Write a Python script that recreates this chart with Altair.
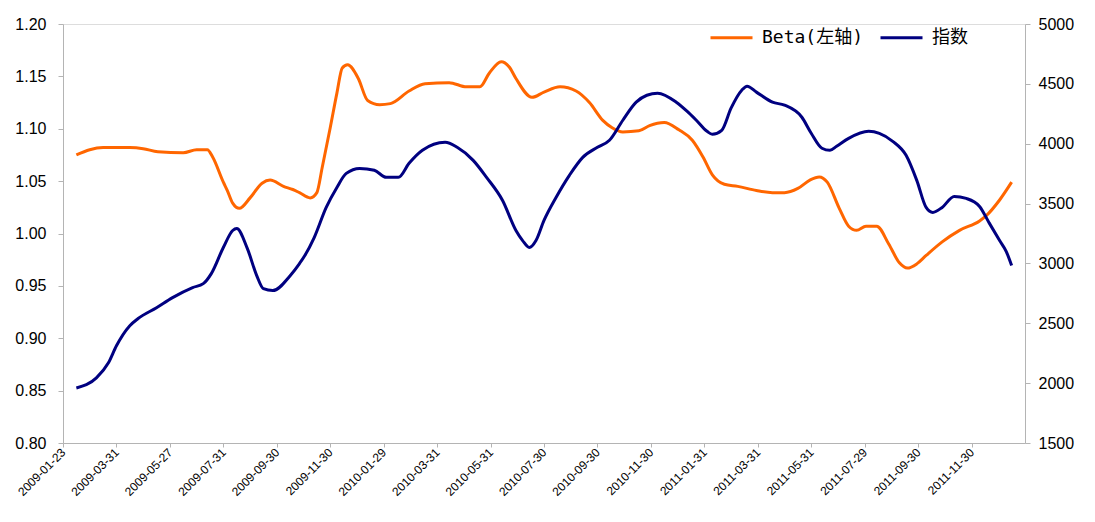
import altair as alt
import pandas as pd

# Category tick labels (one every 40 trading days)
tick_labels = ["2009-01-23", "2009-03-31", "2009-05-27", "2009-07-31", "2009-09-30",
               "2009-11-30", "2010-01-29", "2010-03-31", "2010-05-31", "2010-07-30",
               "2010-09-30", "2010-11-30", "2011-01-31", "2011-03-31", "2011-05-31",
               "2011-07-29", "2011-09-30", "2011-11-30"]
tick_pos = [i * 40 for i in range(len(tick_labels))]

# Beta (left axis): trading-day index and value
beta_t = [10, 20, 30, 50, 60, 71, 90, 100, 108, 112, 120, 123, 127, 132, 140, 149, 155, 165,
          172, 177, 185, 190, 194, 200, 205, 209, 213, 221, 228, 237, 245, 259, 271, 289, 302,
          312, 319, 328, 334, 339, 351, 360, 372, 384, 394, 404, 411, 419, 431, 439, 450, 461,
          471, 479, 486, 495, 505, 519, 531, 540, 550, 559, 566, 572, 581, 588, 594, 601, 609,
          618, 626, 632, 639, 646, 658, 671, 686, 691, 701, 710]
beta_v = [1.075, 1.080, 1.082, 1.082, 1.081, 1.078, 1.077, 1.080, 1.080, 1.073, 1.049, 1.041,
          1.029, 1.024, 1.034, 1.048, 1.051, 1.045, 1.042, 1.039, 1.034, 1.039, 1.063, 1.101,
          1.134, 1.158, 1.161, 1.148, 1.127, 1.123, 1.124, 1.136, 1.143, 1.144, 1.140, 1.140,
          1.153, 1.164, 1.159, 1.148, 1.130, 1.135, 1.140, 1.136, 1.125, 1.108, 1.101, 1.097,
          1.098, 1.103, 1.106, 1.099, 1.089, 1.073, 1.056, 1.047, 1.045, 1.041, 1.039, 1.039,
          1.043, 1.051, 1.054, 1.049, 1.024, 1.007, 1.003, 1.007, 1.007, 0.990, 0.972, 0.967,
          0.971, 0.979, 0.992, 1.003, 1.012, 1.017, 1.032, 1.049]

# Index (right axis): trading-day index and value
idx_t = [10, 25, 34, 40, 50, 56, 70, 82, 97, 105, 111, 120, 127, 130, 138, 145, 150, 157, 170,
         177, 181, 188, 197, 205, 212, 222, 233, 242, 251, 259, 269, 286, 295, 307, 317, 329,
         339, 344, 349, 354, 360, 369, 379, 389, 400, 409, 419, 429, 437, 445, 459, 467, 474,
         482, 486, 493, 500, 508, 512, 519, 531, 540, 553, 560, 568, 574, 579, 588, 603, 611,
         621, 631, 639, 646, 651, 658, 667, 676, 686, 693, 701, 706, 710]
idx_v = [1960, 2044, 2170, 2312, 2480, 2538, 2630, 2714, 2798, 2831, 2915, 3133, 3275, 3292,
         3124, 2898, 2789, 2773, 2898, 2999, 3066, 3216, 3468, 3635, 3752, 3794, 3778, 3719,
         3719, 3836, 3945, 4012, 3970, 3861, 3719, 3526, 3275, 3191, 3133, 3191, 3359, 3551,
         3736, 3886, 3970, 4029, 4196, 4347, 4405, 4422, 4347, 4272, 4196, 4104, 4079, 4112,
         4297, 4447, 4481, 4431, 4347, 4322, 4221, 4087, 3962, 3945, 3979, 4045, 4104, 4087,
         4020, 3903, 3694, 3468, 3426, 3468, 3560, 3543, 3476, 3342, 3191, 3099, 2982]

series_names = ["Beta(左轴)", "指数"]
series_colors = ["#FF6600", "#000080"]

beta_df = pd.DataFrame({"t": beta_t, "v": beta_v, "series": series_names[0]})
idx_df = pd.DataFrame({"t": idx_t, "v": idx_v, "series": series_names[1]})

label_expr = "[" + ",".join("'%s'" % s for s in tick_labels) + "][round(datum.value/40)]"

axis_gray = "#B4B4B4"
FONT = "Liberation Sans"

x_enc = alt.X("t:Q",
              scale=alt.Scale(domain=[0, 720], nice=False, zero=False),
              axis=alt.Axis(title=None, values=tick_pos, labelExpr=label_expr,
                            labelAngle=-45, labelAlign="right", labelBaseline="middle",
                            labelFontSize=12, labelFont=FONT, labelColor="#000000",
                            labelPadding=3, tickSize=4, tickColor=axis_gray,
                            domainColor=axis_gray, grid=False, labelOverlap=False))

color_enc = alt.Color("series:N",
                      scale=alt.Scale(domain=series_names, range=series_colors),
                      legend=alt.Legend(title=None, orient="none", direction="horizontal",
                                        legendX=646, legendY=-9, symbolType="stroke",
                                        symbolSize=1764, symbolStrokeWidth=3,
                                        labelFont="DejaVu Sans Mono, Noto Sans CJK SC",
                                        labelFontSize=18, labelColor="#000000",
                                        labelOffset=8, columnPadding=10))

beta_line = alt.Chart(beta_df).mark_line(strokeWidth=3, interpolate="monotone").encode(
    x=x_enc,
    y=alt.Y("v:Q", scale=alt.Scale(domain=[0.80, 1.20], nice=False, zero=False),
            axis=alt.Axis(title=None, orient="left", format=".2f",
                          values=[0.80, 0.85, 0.90, 0.95, 1.00, 1.05, 1.10, 1.15, 1.20],
                          labelFontSize=16, labelFont=FONT, labelColor="#000000",
                          labelPadding=12, tickSize=5, tickColor=axis_gray,
                          domainColor=axis_gray, grid=False)),
    color=color_enc,
)

idx_line = alt.Chart(idx_df).mark_line(strokeWidth=3, interpolate="monotone").encode(
    x=x_enc,
    y=alt.Y("v:Q", scale=alt.Scale(domain=[1500, 5000], nice=False, zero=False),
            axis=alt.Axis(title=None, orient="right", format="d",
                          values=[1500, 2000, 2500, 3000, 3500, 4000, 4500, 5000],
                          labelFontSize=16, labelFont=FONT, labelColor="#000000",
                          labelPadding=8, tickSize=5, tickColor=axis_gray,
                          domainColor=axis_gray, grid=False)),
    color=color_enc,
)

chart = alt.layer(beta_line, idx_line).resolve_scale(y="independent").properties(
    width=962, height=419,
    autosize=alt.AutoSizeParams(type="none"),
    padding={"left": 55, "top": 16, "right": 58, "bottom": 70},
).configure_view(stroke=None).configure(background="#FFFFFF")

chart.save("out.html", embed_options={"renderer": "svg", "actions": False})
